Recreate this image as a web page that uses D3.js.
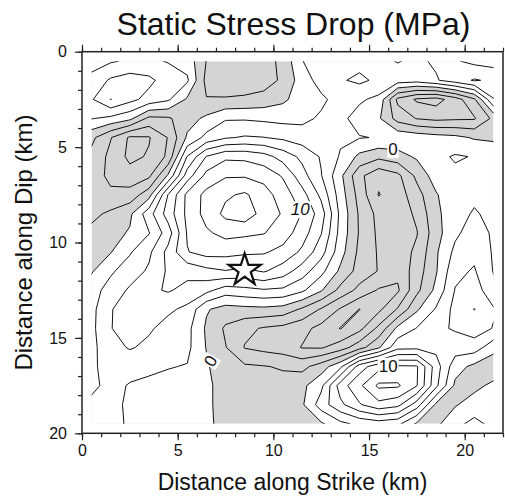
<!DOCTYPE html>
<html>
<head>
<meta charset="UTF-8">
<title>Static Stress Drop (MPa)</title>
<script src="https://cdn.jsdelivr.net/npm/d3@7"></script>
<style>
  body { margin: 0; background: #fff; }
  svg { display: block; font-family: "Liberation Sans", Arial, Helvetica, sans-serif; }
</style>
</head>
<body>
<div id="chart"></div>
<script>
// grid nodes (km), one every km along strike and along dip
const strikeKm = [0.5, 1.5, 2.5, 3.5, 4.5, 5.5, 6.5, 7.5, 8.5, 9.5, 10.5,
                  11.5, 12.5, 13.5, 14.5, 15.5, 16.5, 17.5, 18.5, 19.5, 20.5, 21.5];
const dipKm = [0.5, 1.5, 2.5, 3.5, 4.5, 5.5, 6.5, 7.5, 8.5, 9.5,
               10.5, 11.5, 12.5, 13.5, 14.5, 15.5, 16.5, 17.5, 18.5, 19.5];

// static stress drop (MPa) at each node, one row per dip node
const stressRows = [
  [1.2, 1.8, 2.3, 2.3, 1.9, 1.2, -2.05, -3.0, -3.0, -2.8, -1.5, 1.95, 2.8, 3.0, 3.4, 3.5, 4.1, 3.6, 4.3, 4.2, 3.5, 3.2],
  [2.6, 4.3, 5.0, 4.5, 3.0, 2.3, -2.6, -3.4, -3.4, -3.0, -1.6, 1.0, 2.8, 3.8, 4.4, 3.6, 3.0, 2.8, 3.8, 5.0, 6.2, 5.6],
  [3.8, 6.05, 4.6, 3.3, 2.3, -0.3, -1.9, -1.8, -1.6, -1.2, -0.4, 1.0, 1.6, 2.8, 2.3, 1.5, -4.5, -6.3, -6.8, -5.0, -2.3, 3.9],
  [2.1, 1.5, 0.5, -2.5, -2.3, -0.8, 0.4, 1.8, 1.8, 1.6, 1.4, 1.5, 2.3, 2.5, 1.2, 0.3, -2.8, -4.1, -4.5, -4.3, -4.2, -1.5],
  [-1.5, -3.9, -6.3, -6.15, -3.9, 0.3, 2.6, 3.8, 4.2, 4.05, 3.6, 3.0, 2.6, 2.3, 2.1, 1.9, 1.5, 1.2, 0.8, 0.5, -0.2, -0.4],
  [-2.6, -4.5, -6.5, -5.8, -3.6, 4.1, 8.1, 9.6, 9.5, 8.8, 7.2, 5.5, 3.8, 1.8, -0.5, -1.5, -0.8, 0.3, 1.5, 2.2, 1.9, 1.5],
  [-3.0, -4.5, -5.2, -4.4, 0.3, 7.0, 10.6, 11.8, 11.8, 11.3, 9.8, 6.8, 4.1, 0.5, -3.5, -5.5, -4.5, -1.5, 1.0, 1.6, 1.8, 1.7],
  [-2.8, -3.6, -3.2, -0.8, 6.1, 10.5, 12.6, 13.7, 14.3, 12.9, 11.0, 8.8, 5.5, 1.0, -2.8, -6.1, -5.0, -2.8, -0.2, 1.5, 1.6, 1.5],
  [-2.5, -1.6, -0.4, 3.2, 6.9, 10.5, 12.7, 14.5, 15.2, 13.2, 11.8, 9.9, 7.0, 1.5, -2.3, -4.6, -5.2, -3.6, -0.5, 1.3, 2.2, 1.5],
  [-1.5, -0.7, 0.2, 1.9, 5.0, 10.2, 11.7, 12.6, 12.4, 12.1, 11.0, 9.0, 6.1, 1.3, -2.2, -4.4, -5.3, -4.1, -0.8, 1.6, 3.0, 1.7],
  [-0.9, -0.1, 1.8, 3.6, 6.6, 9.9, 10.8, 10.7, 10.4, 10.2, 9.4, 7.6, 4.8, 0.8, -2.5, -4.2, -5.0, -3.6, -0.3, 2.5, 3.5, 1.8],
  [-0.2, 1.7, 3.0, 4.3, 6.3, 6.6, 7.4, 7.9, 7.5, 8.2, 7.0, 5.0, 2.6, -0.4, -2.8, -4.1, -5.5, -3.0, -0.2, 3.5, 4.2, 1.9],
  [1.2, 2.8, 4.3, 5.6, 6.2, 5.4, 4.6, 3.0, 3.4, 3.8, 3.6, 2.4, 0.2, -2.6, -4.6, -6.2, -6.3, -2.5, 0.5, 4.1, 5.0, 2.6],
  [1.4, 3.9, 4.8, 4.9, 4.4, 3.5, 0.2, -0.8, -0.6, -0.5, -0.8, -2.3, -4.2, -6.2, -8.05, -6.5, -3.8, -0.3, 2.2, 4.6, 6.05, 4.2],
  [1.5, 3.9, 5.2, 4.3, 3.2, 2.6, -0.3, -2.3, -3.5, -4.2, -4.6, -5.4, -6.6, -8.1, -6.6, -3.5, 0.5, 2.1, 3.6, 4.2, 5.0, 3.9],
  [1.5, 3.2, 4.2, 3.5, 2.8, 2.5, -0.1, -1.9, -4.1, -4.6, -5.0, -6.1, -6.2, -5.0, -2.8, -0.3, 3.4, 3.5, 3.4, 3.0, 3.0, 0.8],
  [1.6, 2.9, 2.5, 2.4, 2.1, 1.9, 0.3, -1.5, -1.7, -1.9, -2.2, -2.6, -1.0, 1.5, 7.0, 9.3, 10.3, 10.2, 5.0, 0.8, -0.5, -1.5],
  [1.7, 2.4, 1.9, 1.6, 1.4, 1.0, 0.4, -0.8, -1.3, -1.5, -1.3, -0.5, 1.5, 7.0, 9.6, 12.4, 12.3, 10.1, 4.5, -0.4, -0.6, 0.5],
  [2.3, 2.8, 1.5, 1.3, 1.2, 0.9, 0.3, -0.6, -1.2, -1.2, -1.0, -0.3, 3.0, 5.5, 7.8, 9.4, 8.6, 5.0, -0.4, -0.2, 1.0, 1.5],
  [2.6, 2.9, 1.6, 1.4, 1.6, 1.7, 0.5, -0.8, -1.0, -1.0, -1.0, -0.8, -0.3, 1.5, 2.5, 3.0, 2.5, -0.3, -0.5, 1.5, 2.5, 1.5]
];

// contour interval 2 MPa, negative areas shaded
const contourLevels = [-8, -6, -4, -2, 0, 2, 4, 6, 8, 10, 12, 14];
const strikeTicks = [0, 5, 10, 15, 20];
const dipTicks = [0, 5, 10, 15, 20];

// annotated contours (km along strike, km along dip)
const contourLabels = [
  { text: "10", strike: 11.4, dip: 8.25 },
  { text: "10", strike: 16.0, dip: 16.45 },
  { text: "0", strike: 16.25, dip: 5.1 },
  { text: "0", strike: 6.7, dip: 16.2 }
];
const hypocenter = { strike: 8.5, dip: 11.45 };

// ---- layout ----
const width = 505, height = 499;
const x = d3.scaleLinear().domain([0, 22]).range([82, 503]);
const y = d3.scaleLinear().domain([0, 20]).range([51.7, 433.3]);

const svg = d3.select("#chart")
  .append("svg")
  .attr("width", width)
  .attr("height", height);

// area covered by the grid nodes
const x0 = strikeKm[0], x1 = strikeKm[strikeKm.length - 1];
const y0 = dipKm[0], y1 = dipKm[dipKm.length - 1];

svg.append("clipPath")
  .attr("id", "grid-clip")
  .append("rect")
  .attr("x", x(x0))
  .attr("y", y(y0))
  .attr("width", x(x1) - x(x0))
  .attr("height", y(y1) - y(y0));

// contours: node i sits at i + 0.5 in contour space
const nx = strikeKm.length, ny = dipKm.length;
const values = stressRows.flat();
const contourGen = d3.contours().size([nx, ny]);
const gx = d3.scaleLinear().domain([0.5, nx - 0.5]).range([x0, x1]);
const gy = d3.scaleLinear().domain([0.5, ny - 0.5]).range([y0, y1]);
const toScreen = d3.geoTransform({
  point(px, py) { this.stream.point(x(gx(px)), y(gy(py))); }
});
const path = d3.geoPath(toScreen);

const field = svg.append("g").attr("clip-path", "url(#grid-clip)");

// gray where the stress drop is negative
field.append("rect")
  .attr("x", x(x0))
  .attr("y", y(y0))
  .attr("width", x(x1) - x(x0))
  .attr("height", y(y1) - y(y0))
  .attr("fill", "#d4d4d4");

field.append("path")
  .datum(contourGen.contour(values, 0))
  .attr("fill", "#fff")
  .attr("d", path);

field.selectAll("path.iso")
  .data(contourLevels.map(l => contourGen.contour(values, l)))
  .join("path")
  .attr("class", "iso")
  .attr("fill", "none")
  .attr("stroke", "#111")
  .attr("stroke-width", 1)
  .attr("stroke-linejoin", "round")
  .attr("d", path);

// contour annotations with white boxes
const labelAngles = [0, 0, 0, -60];
contourLabels.forEach((d, i) => {
  const g = svg.append("g")
    .attr("transform", `translate(${x(d.strike)},${y(d.dip)}) rotate(${labelAngles[i]})`);
  const t = g.append("text")
    .attr("text-anchor", "middle")
    .attr("dy", "0.36em")
    .style("font-size", "17px")
    .style("font-style", i === 0 ? "italic" : "normal")
    .attr("fill", "#111")
    .text(d.text);
  const b = t.node().getBBox();
  g.insert("rect", "text")
    .attr("x", b.x - 1)
    .attr("y", b.y + 1)
    .attr("width", b.width + 2)
    .attr("height", b.height - 2)
    .attr("fill", "#fff");
});

// hypocenter star
svg.append("path")
  .attr("d", d3.symbol(d3.symbolStar).size(320)())
  .attr("transform", `translate(${x(hypocenter.strike)},${y(hypocenter.dip)})`)
  .attr("fill", "#fff")
  .attr("stroke", "#111")
  .attr("stroke-width", 2.2)
  .attr("stroke-linejoin", "miter");

// ---- axes ----
const minorStrike = d3.range(0, 23, 1);
const minorDip = d3.range(0, 21, 1);

function styleAxis(g) {
  g.select(".domain").remove();
  g.selectAll("line").attr("stroke", "#222").attr("stroke-width", 1.2);
  g.selectAll("text").style("font-size", "16px").attr("fill", "#111");
}

// bottom
svg.append("g")
  .attr("transform", `translate(0,${y(20)})`)
  .call(d3.axisBottom(x).tickValues(minorStrike).tickSize(4).tickFormat(""))
  .call(styleAxis);
svg.append("g")
  .attr("transform", `translate(0,${y(20)})`)
  .call(d3.axisBottom(x).tickValues(strikeTicks).tickSize(7).tickPadding(4).tickFormat(d3.format("d")))
  .call(styleAxis);

// top
svg.append("g")
  .attr("transform", `translate(0,${y(0)})`)
  .call(d3.axisTop(x).tickValues(minorStrike).tickSize(4).tickFormat(""))
  .call(styleAxis);
svg.append("g")
  .attr("transform", `translate(0,${y(0)})`)
  .call(d3.axisTop(x).tickValues(strikeTicks).tickSize(7).tickFormat(""))
  .call(styleAxis);

// left
svg.append("g")
  .attr("transform", `translate(${x(0)},0)`)
  .call(d3.axisLeft(y).tickValues(minorDip).tickSize(4).tickFormat(""))
  .call(styleAxis);
svg.append("g")
  .attr("transform", `translate(${x(0)},0)`)
  .call(d3.axisLeft(y).tickValues(dipTicks).tickSize(7).tickPadding(8).tickFormat(d3.format("d")))
  .call(styleAxis);

// frame
svg.append("rect")
  .attr("x", x(0))
  .attr("y", y(0))
  .attr("width", x(22) - x(0))
  .attr("height", y(20) - y(0))
  .attr("fill", "none")
  .attr("stroke", "#222")
  .attr("stroke-width", 1.5);

// titles
svg.append("text")
  .attr("x", (x(0) + x(22)) / 2 + 1)
  .attr("y", 35)
  .attr("text-anchor", "middle")
  .style("font-size", "32px")
  .attr("fill", "#111")
  .text("Static Stress Drop (MPa)");

svg.append("text")
  .attr("x", (x(0) + x(22)) / 2)
  .attr("y", 490)
  .attr("text-anchor", "middle")
  .style("font-size", "23px")
  .attr("fill", "#111")
  .text("Distance along Strike (km)");

svg.append("text")
  .attr("transform", `translate(32,${(y(0) + y(20)) / 2}) rotate(-90)`)
  .attr("text-anchor", "middle")
  .style("font-size", "24px")
  .attr("fill", "#111")
  .text("Distance along Dip (km)");
</script>
</body>
</html>
